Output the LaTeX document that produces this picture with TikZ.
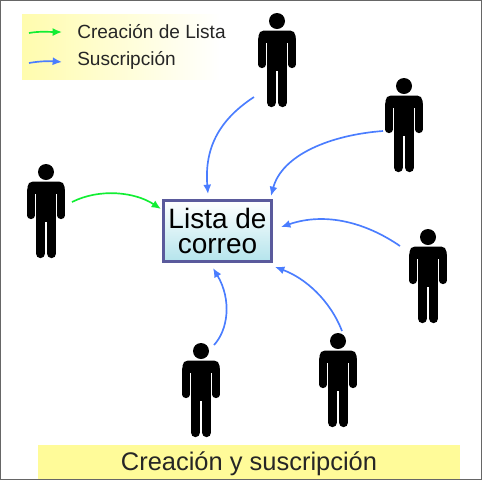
\documentclass[tikz,border=0pt]{standalone}
\usepackage{fontspec}
\setmainfont{Liberation Sans}
\usetikzlibrary{arrows.meta}
\definecolor{createGreen}{HTML}{11EE33}
\definecolor{subscribeBlue}{HTML}{4A7DFF}
\definecolor{boxBorder}{HTML}{5A5A9C}
\definecolor{boxCyan}{HTML}{B4E4EC}
\definecolor{barYellow}{HTML}{FFFB99}
\definecolor{frameGray}{HTML}{666666}
\begin{document}
\begin{tikzpicture}
[x=0.75pt,y=-0.75pt,
frame/.style={frameGray,line width=1pt},
legendBack/.style={left color=barYellow!80!white,right color=white,draw=none},
titleBar/.style={fill=barYellow},
listBox/.style={draw=boxBorder,line width=2.25pt,top color=white,bottom color=boxCyan,minimum width=81pt,minimum height=46pt,inner sep=0pt,align=center,font=\fontsize{21}{18.75}\selectfont},
legendLabel/.style={anchor=west,inner sep=0pt,text=black!85,font=\fontsize{14.3}{16}\selectfont},
titleLabel/.style={inner sep=0pt,text=black!85,font=\fontsize{19.1}{21}\selectfont},
createEdge/.style={-{Latex[length=7pt,width=6pt]},createGreen,line width=1.25pt},
subscribeEdge/.style={-{Latex[length=7pt,width=6pt]},subscribeBlue,line width=1.25pt},
pics/person/.style={code={
\fill (0,0) circle (6pt);
\fill[rounded corners=4pt] (-18.5,32) -- (-18.5,9.5) -- (18.5,9.5) -- (18.5,32) -- cycle;
\fill[white] (-18.5,22) rectangle (18.5,34);
\fill (-10,15) rectangle (10,50);
\draw[line width=5.4pt,line cap=round] (-15,18) -- (-15,43.5);
\draw[line width=5.4pt,line cap=round] (15,18) -- (15,43.5);
\draw[line width=7pt,line cap=round] (-5.6,45) -- (-5.6,81.5);
\draw[line width=7pt,line cap=round] (5.6,45) -- (5.6,81.5);
}}]
\useasboundingbox (0,0) rectangle (482,480);
\node[legendBack,minimum width=148.5pt,minimum height=48.75pt,inner sep=0pt] (legend) at (121,46.5) {};
\node[titleBar,minimum width=316.5pt,minimum height=26.25pt,inner sep=0pt] (bar) at (249,462.5) {};
\node[titleLabel] (title) at (249,464) {Creación y suscripción};
\draw[frame] (0.5,0.5) rectangle (481.5,479.5);

\node[legendLabel] (createLabel) at (77,32) {Creación de Lista};
\node[legendLabel] (subscribeLabel) at (77,60) {Suscripción};
\coordinate (legendA) at (29,33);
\coordinate (legendB) at (62,32);
\coordinate (legendC) at (29,63);
\coordinate (legendD) at (62,62);
\draw[createEdge] (legendA) .. controls (40,31) and (50,32) .. (legendB);
\draw[subscribeEdge] (legendC) .. controls (40,61) and (50,61) .. (legendD);

\pic (person1) at (46,172) {person};
\pic (person2) at (277,21) {person};
\pic (person3) at (404,86) {person};
\pic (person4) at (428,237) {person};
\pic (person5) at (338,341) {person};
\pic (person6) at (201,351) {person};

\node[listBox] (list) at (217.5,231) {Lista de\\correo};

\coordinate (start1) at (72,202);
\coordinate (end1) at (161,209);
\coordinate (start2) at (254,97);
\coordinate (end2) at (208,194);
\coordinate (start3) at (383,131);
\coordinate (end3) at (271,196);
\coordinate (start4) at (400,246);
\coordinate (end4) at (281,227);
\coordinate (start5) at (342,331);
\coordinate (end5) at (275,267);
\coordinate (start6) at (214,345);
\coordinate (end6) at (213,268);

\draw[createEdge] (start1) .. controls (100,188) and (135,192) .. (end1);
\draw[subscribeEdge] (start2) .. controls (222,118) and (204,145) .. (end2);
\draw[subscribeEdge] (start3) .. controls (330,135) and (282,155) .. (end3);
\draw[subscribeEdge] (start4) .. controls (365,222) and (325,212) .. (end4);
\draw[subscribeEdge] (start5) .. controls (330,300) and (305,278) .. (end5);
\draw[subscribeEdge] (start6) .. controls (228,330) and (232,300) .. (end6);
\end{tikzpicture}
\end{document}
